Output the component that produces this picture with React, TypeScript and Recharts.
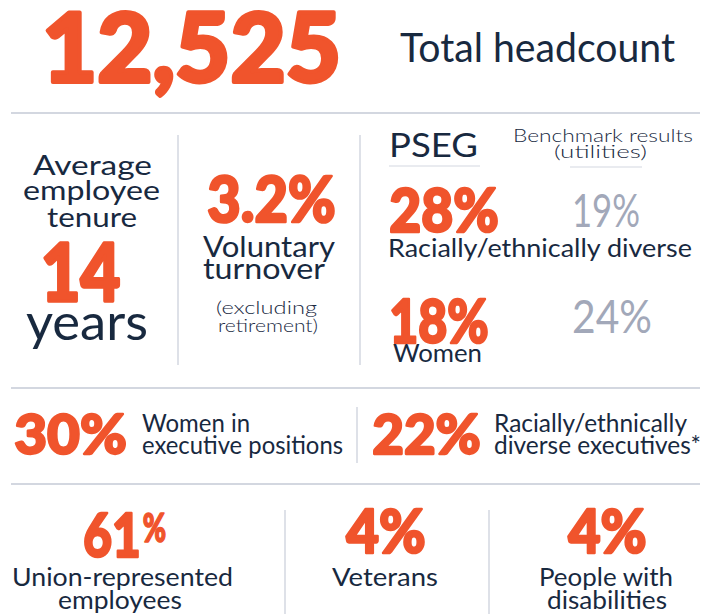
import { Surface, Layer } from 'recharts'

const headcount = 12525
const tenureYears = 14
const voluntaryTurnover = 3.2
const diversityMetrics = ['Racially/ethnically diverse', 'Women']
const psegShares = [28, 18]
const benchmarkShares = [19, 24]
const executiveLabels = [
  ['Women in', 'executive positions'],
  ['Racially/ethnically', 'diverse executives*'],
]
const executiveShares = [30, 22]
const workforceLabels = [['Union-represented', 'employees'], ['Veterans'], ['People with', 'disabilities']]
const workforceShares = [61, 4, 4]

const W = 709
const H = 616
const ORANGE = '#F0542C'
const NAVY = '#18293F'
const GREY = '#A2A8B9'
const RULE = '#D3D7E0'
const FONT = 'Lato, "Open Sans", sans-serif'

type TProps = {
  x: number
  y: number
  w: number
  size: number
  children: React.ReactNode
  color?: string
  weight?: number
  heavy?: boolean
}

function T({ x, y, w, size, children, color = NAVY, weight = 400, heavy = false }: TProps) {
  // the big figures get an outline of their own colour to look as black as the original face
  const sw = heavy ? size * 0.04 : 0
  return (
    <text
      x={x + sw / 2}
      y={y - sw / 2}
      fontSize={size - sw}
      fontFamily={FONT}
      fontWeight={weight}
      fill={color}
      stroke={heavy ? color : undefined}
      strokeWidth={heavy ? sw : undefined}
      strokeLinejoin="round"
      textLength={w - sw}
      lengthAdjust="spacingAndGlyphs"
    >
      {children}
    </text>
  )
}

const Big = (p: TProps) => <T weight={900} color={ORANGE} heavy {...p} />

function Rule({ x1, y1, x2, y2, w = 2 }: { x1: number; y1: number; x2: number; y2: number; w?: number }) {
  return <line x1={x1} y1={y1} x2={x2} y2={y2} stroke={RULE} strokeWidth={w} />
}

// positions of the lower cells
const diversityRows = [
  { numY: 232, numW: 112, benchY: 227, benchW: 68, labelX: 388, labelY: 257, labelW: 304 },
  { numY: 343, numW: 102, benchY: 333, benchW: 80, labelX: 393, labelY: 362, labelW: 89 },
]
const execCells = [
  { numX: 13, numW: 115, textX: 142, widths: [108, 201] },
  { numX: 371, numW: 111, textX: 494, widths: [193, 207] },
]
const workforceCells = [
  { numX: 82, numW: 60, lines: [{ x: 12, w: 221 }, { x: 58, w: 124 }] },
  { numX: 345, numW: 82, lines: [{ x: 332, w: 106 }] },
  { numX: 567, numW: 81, lines: [{ x: 539, w: 134 }, { x: 547, w: 120 }] },
]

export default function App() {
  return (
    <div style={{ position: 'absolute', left: 0, top: 0, width: W, height: H, background: '#fff' }}>
      <Surface width={W} height={H} viewBox={{ x: 0, y: 0, width: W, height: H }}>
        {/* headline */}
        <Big x={40} y={84} w={303} size={99}>
          {headcount.toLocaleString('en-US')}
        </Big>
        <T x={400} y={62} w={275} size={40}>
          Total headcount
        </T>
        <Rule x1={11} y1={113} x2={700} y2={113} />

        {/* tenure */}
        <Layer>
          <T x={33} y={175} w={119} size={27}>Average</T>
          <T x={23} y={200} w={137} size={27}>employee</T>
          <T x={47} y={227} w={90} size={27}>tenure</T>
          <Big x={39} y={303} w={83} size={84}>{tenureYears}</Big>
          <T x={26} y={340} w={122} size={50}>years</T>
        </Layer>
        <Rule x1={178} y1={135} x2={178} y2={365} w={1.5} />

        {/* turnover */}
        <Layer>
          <Big x={206} y={223} w={131} size={66}>{`${voluntaryTurnover}%`}</Big>
          <T x={203} y={257} w={132} size={28}>Voluntary</T>
          <T x={203} y={279} w={122} size={28}>turnover</T>
          <T x={216} y={314} w={101} size={18} weight={300}>(excluding</T>
          <T x={218} y={332} w={100} size={18} weight={300}>retirement)</T>
        </Layer>
        <Rule x1={360} y1={135} x2={360} y2={365} w={1.5} />

        {/* PSEG vs benchmark */}
        <Layer>
          <T x={389} y={157} w={89} size={32}>PSEG</T>
          <Rule x1={389} y1={166} x2={480} y2={166} w={1} />
          <T x={513} y={142} w={180} size={17} weight={300}>Benchmark results</T>
          <T x={554} y={158} w={93} size={17} weight={300}>(utilities)</T>
          <Rule x1={570} y1={167} x2={642} y2={167} w={1} />
          {diversityMetrics.map((label, i) => {
            const r = diversityRows[i]
            return (
              <Layer key={label}>
                <Big x={388} y={r.numY + 1} w={r.numW} size={64}>{`${psegShares[i]}%`}</Big>
                <T x={572} y={r.benchY} w={r.benchW} size={47} color={GREY}>
                  {`${benchmarkShares[i]}%`}
                </T>
                <T x={r.labelX} y={r.labelY} w={r.labelW} size={25}>{label}</T>
              </Layer>
            )
          })}
        </Layer>
        <Rule x1={11} y1={388} x2={700} y2={388} />

        {/* executives */}
        {executiveShares.map((v, i) => {
          const c = execCells[i]
          return (
            <Layer key={i}>
              <Big x={c.numX} y={455} w={c.numW} size={58}>{`${v}%`}</Big>
              {executiveLabels[i].map((line, j) => (
                <T key={line} x={c.textX} y={432 + j * 22} w={c.widths[j]} size={25}>{line}</T>
              ))}
            </Layer>
          )
        })}
        <Rule x1={357} y1={407} x2={357} y2={463} w={1.5} />
        <Rule x1={11} y1={484} x2={700} y2={484} />

        {/* workforce */}
        {workforceShares.map((v, i) => {
          const c = workforceCells[i]
          return (
            <Layer key={i}>
              {i === 0 ? (
                <>
                  <Big x={c.numX} y={558} w={c.numW} size={64}>{v}</Big>
                  <Big x={142} y={543} w={25} size={41}>%</Big>
                </>
              ) : (
                <Big x={c.numX} y={554} w={c.numW} size={64}>{`${v}%`}</Big>
              )}
              {workforceLabels[i].map((line, j) => (
                <T key={line} x={c.lines[j].x} y={586 + j * 23} w={c.lines[j].w} size={25}>{line}</T>
              ))}
            </Layer>
          )
        })}
        <Rule x1={285} y1={510} x2={285} y2={614} w={1.5} />
        <Rule x1={489} y1={510} x2={489} y2={614} w={1.5} />
      </Surface>
    </div>
  )
}
